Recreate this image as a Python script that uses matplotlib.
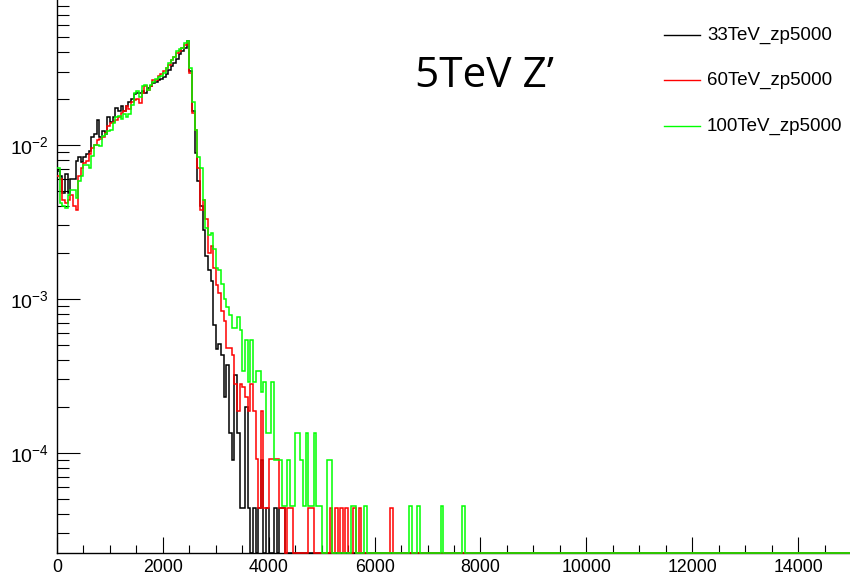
import numpy as np
import matplotlib
matplotlib.use("Agg")
import matplotlib.pyplot as plt
from matplotlib.ticker import MultipleLocator, LogLocator, LogFormatterMathtext, NullFormatter
from matplotlib.lines import Line2D
from matplotlib.transforms import Affine2D

plt.rcParams['font.family'] = ['Liberation Sans', 'DejaVu Sans']
plt.rcParams['mathtext.fontset'] = 'custom'
plt.rcParams['mathtext.rm'] = 'Liberation Sans'
plt.rcParams['mathtext.it'] = 'Liberation Sans:italic'

# ---- data: bin width 50 GeV, x range 0-15000 ----
bin_width = 50
x_max = 15000

labels = ["33TeV_zp5000", "60TeV_zp5000", "100TeV_zp5000"]
colors = ["#000000", "#ff0000", "#00ff00"]

h33 = [0.0068, 0.0063, 0.0049, 0.0065, 0.0049, 0.0060, 0.0060, 0.0079, 0.0083, 0.0078,
       0.0083, 0.0087, 0.0091, 0.0112, 0.0117, 0.0145, 0.0112, 0.0123, 0.0117, 0.0151,
       0.0141, 0.0151, 0.0174, 0.0166, 0.0178, 0.0166, 0.0178, 0.0191, 0.0200, 0.0214,
       0.0219, 0.0219, 0.0224, 0.0219, 0.0234, 0.0240, 0.0251, 0.0257, 0.0263, 0.0269,
       0.0275, 0.0288, 0.0309, 0.0324, 0.0339, 0.0363, 0.0389, 0.0407, 0.0427, 0.0473,
       0.0302, 0.0166, 0.0089, 0.0058, 0.0040, 0.0028, 0.0019, 0.00155, 0.0013, 0.00068,
       0.00047, 0.00051, 0.00043, 0.00023, 0.00037, 0.000135, 9.0e-5, 0.00032, 0.000135, 4.4e-5,
       4.4e-5, 0.00020, 4.4e-5, 0, 4.4e-5, 0, 4.4e-5, 9.0e-5, 0, 4.4e-5,
       0, 0, 4.4e-5, 0, 4.4e-5, 4.4e-5]

h60 = [0.0063, 0.0060, 0.0044, 0.0042, 0.0044, 0.0047, 0.0040, 0.0038, 0.0063, 0.0071,
       0.0076, 0.0079, 0.0087, 0.0095, 0.0100, 0.0107, 0.0110, 0.0112, 0.0120, 0.0132,
       0.0138, 0.0141, 0.0145, 0.0151, 0.0162, 0.0166, 0.0178, 0.0170, 0.0191, 0.0195,
       0.0200, 0.0186, 0.0219, 0.0240, 0.0229, 0.0240, 0.0263, 0.0263, 0.0282, 0.0288,
       0.0302, 0.0316, 0.0331, 0.0355, 0.0372, 0.0398, 0.0407, 0.0427, 0.0447, 0.0468,
       0.0295, 0.0162, 0.0126, 0.0071, 0.0038, 0.0044, 0.0033, 0.0020, 0.0022, 0.0016,
       0.00123, 0.0011, 0.00083, 0.00072, 0.00048, 0.00048, 0.00043, 0.00028, 0.000186, 0.00028,
       0.00027, 0.00023, 0.000186, 0.00028, 0.000186, 9.1e-5, 4.4e-5, 0.000186, 4.4e-5, 4.4e-5,
       9.1e-5, 9.1e-5, 9.1e-5, 9.1e-5, 4.4e-5, 4.4e-5, 0, 4.4e-5, 4.4e-5, 0,
       0, 0, 0, 0, 0, 4.4e-5, 4.4e-5, 0, 0, 0,
       0, 0, 0, 4.4e-5, 0, 4.4e-5, 0, 4.4e-5, 0, 4.4e-5,
       0, 0, 4.4e-5, 0, 4.4e-5, 0, 0, 0, 0, 0,
       0, 0, 0, 0, 0, 0, 4.4e-5]

h100 = [0.0071, 0.0042, 0.0040, 0.0039, 0.0047, 0.0051, 0.0051, 0.0045, 0.0058, 0.0063,
        0.0074, 0.0074, 0.0071, 0.0085, 0.0100, 0.0100, 0.0098, 0.0115, 0.0117, 0.0123,
        0.0126, 0.0138, 0.0151, 0.0155, 0.0148, 0.0158, 0.0151, 0.0158, 0.0182, 0.0219,
        0.0224, 0.0204, 0.0240, 0.0245, 0.0229, 0.0245, 0.0257, 0.0269, 0.0275, 0.0282,
        0.0292, 0.0316, 0.0339, 0.0355, 0.0372, 0.0407, 0.0417, 0.0427, 0.0457, 0.0473,
        0.0316, 0.0191, 0.0126, 0.0083, 0.0071, 0.0044, 0.0029, 0.0026, 0.0027, 0.0021,
        0.0016, 0.00155, 0.00126, 0.0010, 0.00089, 0.00079, 0.00065, 0.00065, 0.00076, 0.00063,
        0.00034, 0.00054, 0.00029, 0.00054, 0.00029, 0.00034, 0.00034, 0.00025, 0.00029, 0.000135,
        0.000135, 0.00029, 9.0e-5, 9.0e-5, 9.0e-5, 4.5e-5, 4.5e-5, 9.0e-5, 4.5e-5, 4.5e-5,
        0.000135, 0.000135, 9.0e-5, 4.5e-5, 0.000135, 4.5e-5, 4.5e-5, 0.000135, 4.5e-5, 4.5e-5,
        0, 0, 9.0e-5, 9.0e-5, 0, 0, 0, 0, 0, 0,
        0, 4.5e-5, 4.5e-5, 0, 0, 0, 4.5e-5, 0, 0, 0,
        0, 0, 0, 0, 0, 0, 0, 0, 0, 0,
        0, 0, 0, 4.5e-5, 0, 0, 4.5e-5, 0, 0, 0,
        0, 0, 0, 0, 0, 4.5e-5, 0, 0, 0, 0,
        0, 0, 0, 4.5e-5]

title_text = "5TeV Z\u2019"

# ---- figure ----
W, H = 850, 578
fig = plt.figure(figsize=(W / 100, H / 100), dpi=100)
px = Affine2D().scale(1 / W, -1 / H).translate(0, 1) + fig.transFigure

ax_left, ax_right, ax_bottom, ax_top = 57, 851, 553, 0
ax = fig.add_axes([ax_left / W, (H - ax_bottom) / H,
                   (ax_right - ax_left) / W, (ax_bottom - ax_top) / H])

y_lo, y_hi = 2.24e-5, 0.0874
ax.set_yscale('log')
ax.set_xlim(0, x_max)
ax.set_ylim(y_lo, y_hi)

edges = np.arange(0, x_max + bin_width, bin_width)
nb = len(edges) - 1
for vals, c in zip([h33, h60, h100], colors):
    v = np.zeros(nb)
    v[:len(vals)] = vals
    v = np.where(v > 0, v, y_lo)
    ax.stairs(v, edges, baseline=None, color=c, lw=1.1, clip_on=False, zorder=3)

for s in ['top', 'right']:
    ax.spines[s].set_visible(False)
for s in ['left', 'bottom']:
    ax.spines[s].set_linewidth(1.0)
    ax.spines[s].set_zorder(2)

ax.xaxis.set_major_locator(MultipleLocator(2000))
ax.xaxis.set_minor_locator(MultipleLocator(500))
ax.yaxis.set_major_locator(LogLocator(base=10))
ax.yaxis.set_minor_locator(LogLocator(base=10, subs=np.arange(2, 10)))
ax.yaxis.set_major_formatter(LogFormatterMathtext())
ax.yaxis.set_minor_formatter(NullFormatter())

ax.tick_params(axis='x', which='major', direction='in', length=11.5, width=0.8,
               labelsize=12.8, pad=4, top=False)
ax.tick_params(axis='x', which='minor', direction='in', length=5.8, width=0.8, top=False)
ax.tick_params(axis='y', which='major', direction='in', length=16.5, width=0.8,
               labelsize=14, pad=6, right=False)
ax.tick_params(axis='y', which='minor', direction='in', length=8.6, width=0.8, right=False)

# legend (ROOT-style, no frame)
leg_y = [35, 80, 126]
for lab, c, yy in zip(labels, colors, leg_y):
    fig.add_artist(Line2D([664, 700], [yy, yy], color=c, lw=1.0, transform=px))
    fig.text(707, yy, lab, transform=px, ha='left', va='center', fontsize=13.5)

fig.text(415, 76, title_text, transform=px, ha='left', va='center',
         fontsize=30.5, family=['Open Sans', 'DejaVu Sans'])

fig.savefig("out.png", dpi=100)
